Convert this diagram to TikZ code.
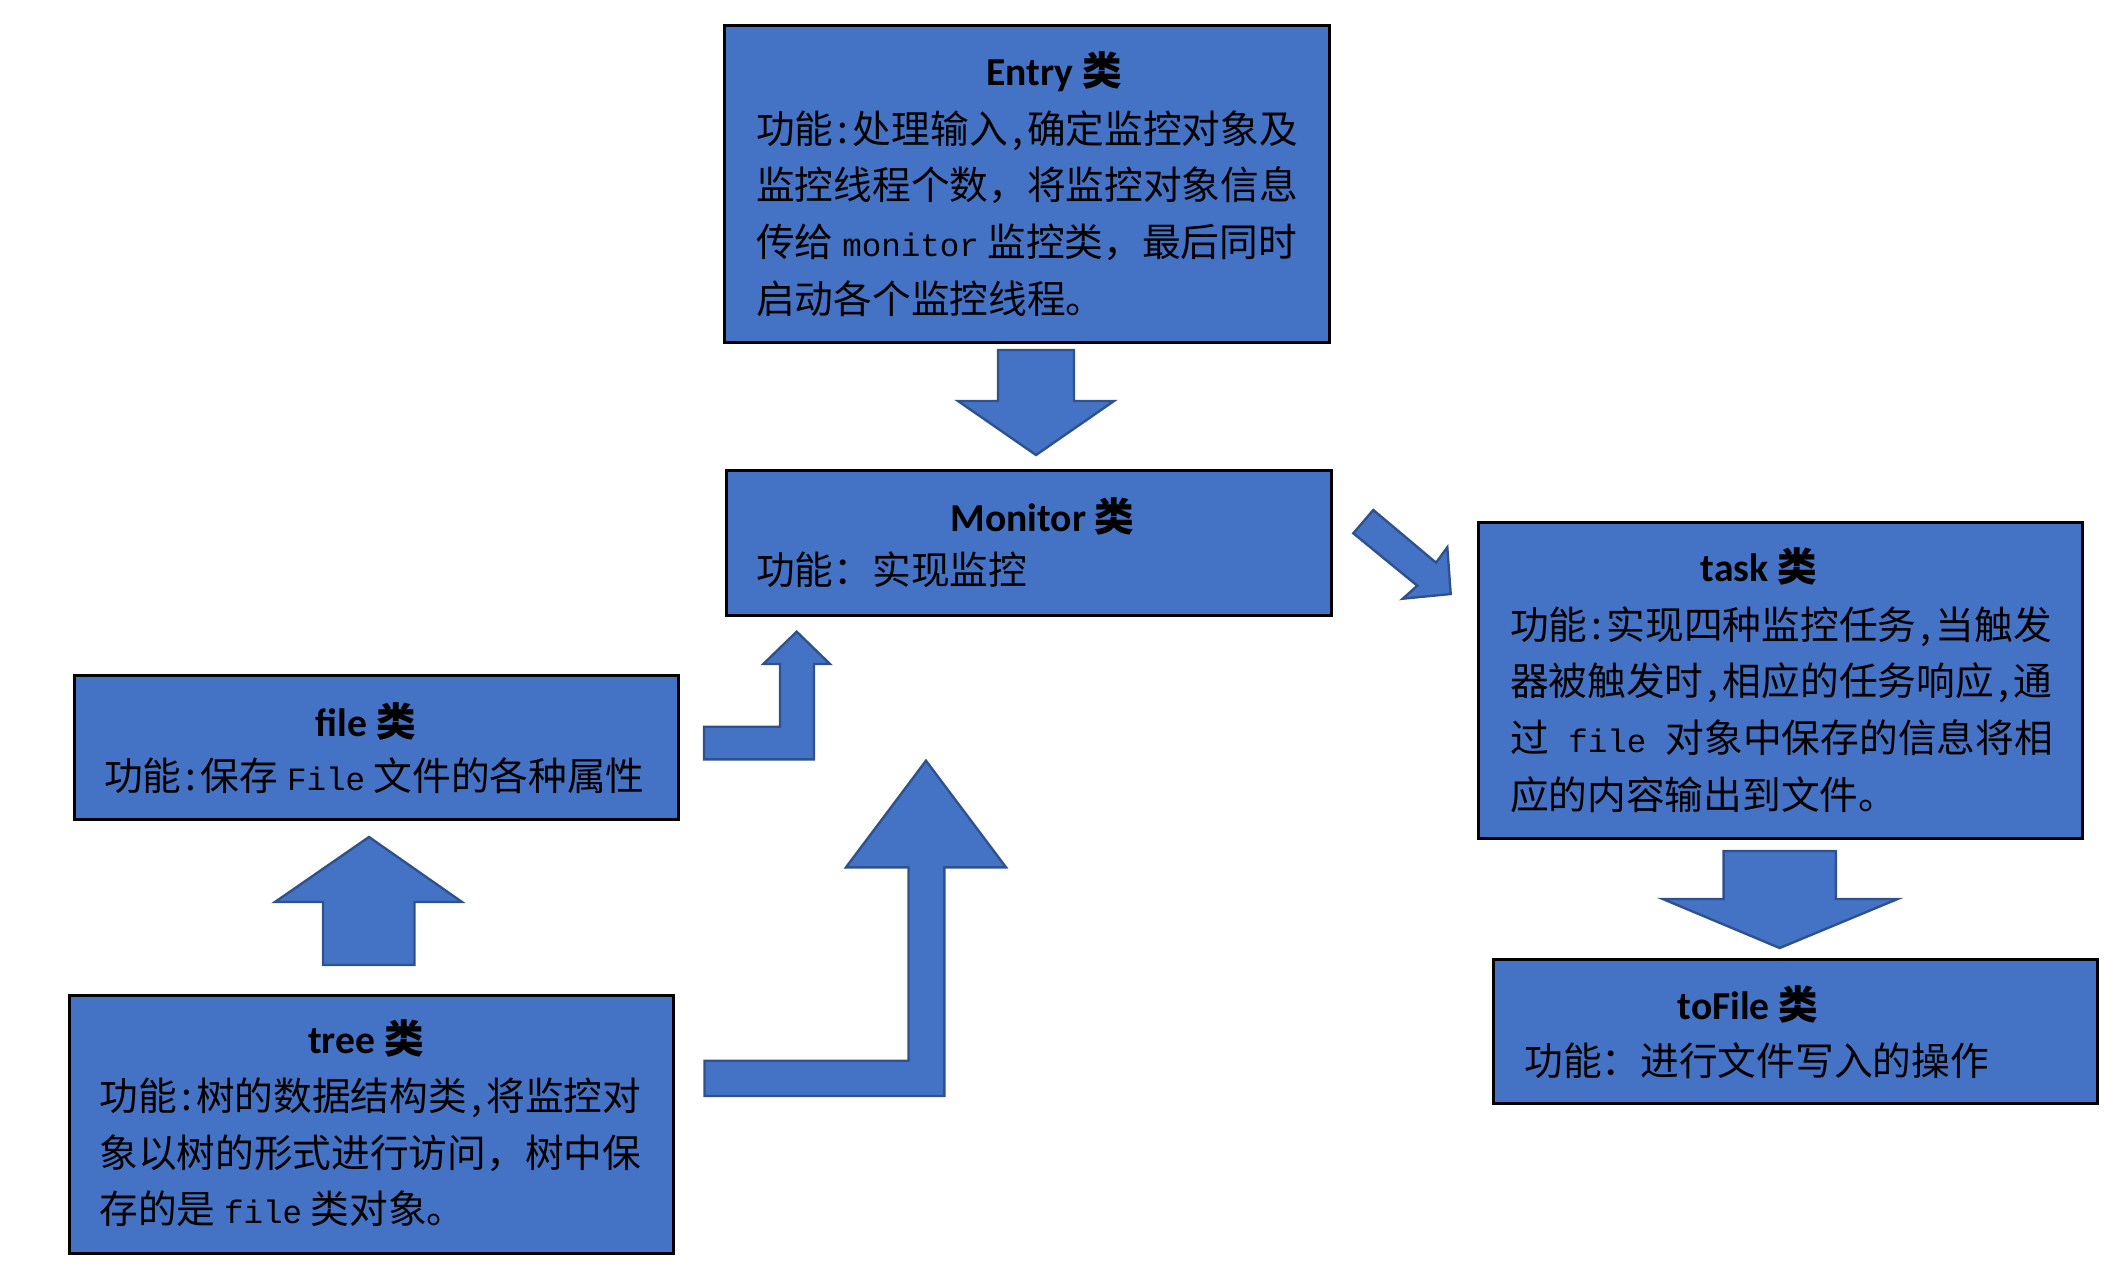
\documentclass[tikz,border=0pt]{standalone}
\usepackage{fontspec}
\setmainfont{Carlito}
\newfontfamily\cjk{Noto Sans CJK SC}
\newfontfamily\mono[Scale=0.84]{Liberation Mono}
\definecolor{boxblue}{HTML}{4472C4}
\definecolor{edgeblue}{HTML}{2F528F}
\newcommand{\hw}[1]{\makebox[.5em]{#1}}
\newcommand{\classname}[1]{\textbf{#1} {\cjk\bfseries 类}}
\tikzset{
  classbox/.style={draw=black, line width=1.5pt, fill=boxblue, inner sep=0pt},
  headtext/.style={inner sep=0pt, font=\bfseries\fontsize{19.8}{24}\selectfont},
  bodytext/.style={anchor=west, inner sep=0pt, align=left, font=\cjk\fontsize{19.35}{28.35}\selectfont},
  bigarrow/.style={fill=boxblue, draw=edgeblue, line width=1.2pt, line join=miter}
}

\begin{document}
\begin{tikzpicture}[x=.5pt,y=-.5pt]
\useasboundingbox (0,0) rectangle (2122,1280);
%class boxes
\node[classbox, minimum width=302.25pt, minimum height=158.4pt] (entry)   at (1026.75,184.1) {};
\node[classbox, minimum width=302.5pt,  minimum height=72.5pt]  (monitor) at (1028.5,542.5) {};
\node[classbox, minimum width=302pt,    minimum height=72pt]    (file)    at (376,747) {};
\node[classbox, minimum width=302pt,    minimum height=129pt]   (tree)    at (371,1124) {};
\node[classbox, minimum width=302pt,    minimum height=158pt]   (task)    at (1780,680) {};
\node[classbox, minimum width=302pt,    minimum height=72pt]    (tofile)  at (1795,1031) {};
%titles
\node[headtext] (entry-t)   at (1054,71.3)  {\classname{Entry}};
\node[headtext] (monitor-t) at (1042.5,516) {\classname{Monitor}};
\node[headtext] (file-t)    at (366,721)    {\classname{file}};
\node[headtext] (tree-t)    at (366,1038.8) {\classname{tree}};
\node[headtext] (task-t)    at (1759,566)   {\classname{task}};
\node[headtext] (tofile-t)  at (1748,1004)  {\classname{toFile}};
%texts
\node[bodytext] (entry-b) at (755.8,213.5) {功能\hw{:}处理输入\hw{,}确定监控对象及\\监控线程个数，将监控对象信息\\传给 {\mono monitor} 监控类，最后同时\\启动各个监控线程。};
\node[bodytext] (monitor-b) at (755.8,570) {功能：实现监控};
\node[bodytext] (file-b) at (103.8,775.7) {功能\hw{:}保存 {\mono File} 文件的各种属性};
\node[bodytext] (tree-b) at (99,1152.3) {功能\hw{:}树的数据结构类\hw{,}将监控对\\象以树的形式进行访问，树中保\\存的是 {\mono file} 类对象。};
\node[bodytext] (task-b) at (1509.7,709.4) {功能\hw{:}实现四种监控任务\hw{,}当触发\\器被触发时\hw{,}相应的任务响应\hw{,}通\\过{\mono\ file\ }对象中保存的信息将相\\应的内容输出到文件。};
\node[bodytext] (tofile-b) at (1524,1060.8) {功能：进行文件写入的操作};
%entry -> monitor
\draw[bigarrow] (998,350) -- (1074,350) -- (1074,401) -- (1114,401) -- (1036,455) -- (958,401) -- (998,401) -- cycle;
%monitor -> task
\draw[bigarrow] (1373.3,510) -- (1436,562.7) -- (1447.3,547.3) -- (1450.7,594) -- (1402.7,598.7) -- (1417.3,585.7) -- (1353.3,533.3) -- cycle;
%file -> monitor
\draw[bigarrow] (704,726.7) -- (780,726.7) -- (780,664) -- (763.3,664) -- (796.7,631.7) -- (830,664) -- (814,664) -- (814,759.3) -- (704,759.3) -- cycle;
%tree -> file
\draw[bigarrow] (323,965) -- (323,902) -- (275,902) -- (369,837) -- (462,902) -- (414.5,902) -- (414.5,965) -- cycle;
%tree -> monitor
\draw[bigarrow] (704.5,1060.7) -- (908.5,1060.7) -- (908.5,867.3) -- (846,867.3) -- (926,760.7) -- (1006,867.3) -- (944.3,867.3) -- (944.3,1096) -- (704.5,1096) -- cycle;
%task -> tofile
\draw[bigarrow] (1723.6,851) -- (1835.8,851) -- (1835.8,899) -- (1897.6,899) -- (1779.7,948) -- (1662.8,899) -- (1723.6,899) -- cycle;
\end{tikzpicture}
\end{document}
